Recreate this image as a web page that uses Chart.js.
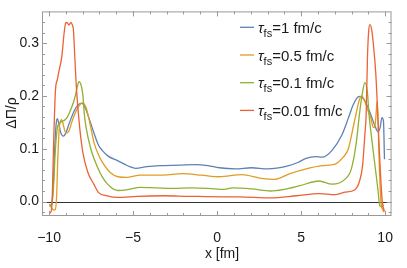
<!DOCTYPE html>
<html>
<head>
<meta charset="utf-8">
<script src="https://cdn.jsdelivr.net/npm/chart.js"></script>
<style>
  body { margin: 0; background: #fff; }
  #wrap { width: 407px; height: 268px; }
</style>
</head>
<body>
<div id="wrap"><canvas id="chart1" width="407" height="268"></canvas></div>
<script>
var xTicks = [-10, -5, 0, 5, 10];
var yTicks = [0, 0.1, 0.2, 0.3];
var seriesNames = ['1', '0.5', '0.1', '0.01'];
var seriesColors = ['#5e81b5', '#e19c24', '#8fb032', '#eb6235'];

var blueX = [-9.97, -9.85, -9.75, -9.65, -9.56, -9.5, -9.42, -9.3, -9.14, -9.0, -8.8, -8.5, -8.3, -8.1, -7.95, -7.7, -7.32, -7.05, -6.84, -6.48, -5.9, -5.52, -5.2, -4.85, -4.18, -3.41, -2.26, -1.3, -0.54, 0.13, 1.09, 2.05, 3.0, 4.16, 4.8, 5.3, 5.88, 6.26, 6.84, 7.41, 7.8, 8.08, 8.3, 8.47, 8.75, 9.14, 9.42, 9.58, 9.7, 9.81, 9.9, 9.96];
var blueY = [-0.009, -0.006, 0.03, 0.11, 0.152, 0.157, 0.148, 0.13, 0.124, 0.13, 0.148, 0.172, 0.182, 0.186, 0.184, 0.165, 0.129, 0.106, 0.097, 0.086, 0.077, 0.071, 0.066, 0.063, 0.066, 0.068, 0.069, 0.070, 0.068, 0.064, 0.062, 0.064, 0.062, 0.067, 0.074, 0.082, 0.085, 0.084, 0.097, 0.125, 0.157, 0.182, 0.195, 0.199, 0.193, 0.165, 0.141, 0.132, 0.14, 0.159, 0.152, 0.08];

var orangeX = [-9.97, -9.85, -9.72, -9.63, -9.55, -9.48, -9.4, -9.3, -9.24, -9.15, -9.0, -8.85, -8.6, -8.3, -8.0, -7.8, -7.6, -7.32, -7.05, -6.84, -6.36, -5.9, -5.33, -4.56, -3.22, -2.07, -0.92, 0.13, 1.47, 2.62, 3.39, 4.34, 5.3, 6.26, 7.03, 7.5, 7.8, 8.18, 8.47, 8.6, 8.75, 9.0, 9.14, 9.29, 9.38, 9.46, 9.52, 9.57, 9.65, 9.75, 9.85, 9.95];
var orangeY = [-0.005, -0.012, -0.016, -0.015, 0.01, 0.08, 0.135, 0.154, 0.155, 0.145, 0.13, 0.132, 0.155, 0.177, 0.187, 0.178, 0.153, 0.111, 0.088, 0.075, 0.055, 0.047, 0.046, 0.050, 0.050, 0.053, 0.050, 0.047, 0.051, 0.044, 0.042, 0.053, 0.062, 0.068, 0.071, 0.084, 0.099, 0.153, 0.193, 0.2, 0.193, 0.17, 0.159, 0.141, 0.14, 0.165, 0.19, 0.16, 0.07, 0.0, -0.015, -0.02];

var greenX = [-9.97, -9.85, -9.75, -9.62, -9.5, -9.33, -9.14, -8.95, -8.66, -8.47, -8.3, -8.22, -8.09, -7.99, -7.9, -7.8, -7.51, -7.13, -6.8, -6.36, -5.9, -5.4, -4.56, -3.6, -2.64, -1.49, -0.54, 0.42, 0.9, 2.05, 3.2, 3.97, 4.92, 6.07, 6.84, 7.6, 7.99, 8.28, 8.47, 8.66, 8.79, 8.94, 9.04, 9.23, 9.42, 9.58, 9.68, 9.78, 9.9];
var greenY = [-0.005, -0.008, 0.02, 0.1, 0.14, 0.15, 0.153, 0.158, 0.178, 0.196, 0.22, 0.227, 0.22, 0.202, 0.165, 0.141, 0.099, 0.066, 0.045, 0.028, 0.021, 0.022, 0.027, 0.026, 0.025, 0.026, 0.025, 0.023, 0.026, 0.024, 0.020, 0.023, 0.030, 0.039, 0.033, 0.042, 0.062, 0.111, 0.165, 0.208, 0.225, 0.208, 0.165, 0.111, 0.062, 0.02, -0.008, -0.01, -0.006];

var redX = [-9.97, -9.9, -9.82, -9.72, -9.62, -9.5, -9.43, -9.24, -9.1, -9.0, -8.9, -8.82, -8.7, -8.6, -8.55, -8.47, -8.37, -8.18, -7.99, -7.7, -7.32, -7.05, -6.55, -5.9, -4.75, -3.2, -1.7, 0.42, 1.28, 3.18, 4.73, 6.07, 7.03, 7.6, 8.18, 8.47, 8.66, 8.8, 8.87, 8.95, 9.02, 9.1, 9.21, 9.33, 9.44, 9.54, 9.62, 9.71, 9.83, 9.95];
var redY = [-0.022, -0.02, 0.0, 0.12, 0.21, 0.232, 0.244, 0.275, 0.32, 0.339, 0.338, 0.334, 0.339, 0.333, 0.325, 0.275, 0.214, 0.141, 0.093, 0.056, 0.032, 0.017, 0.011, 0.008, 0.010, 0.011, 0.010, 0.009, 0.009, 0.007, 0.011, 0.015, 0.013, 0.018, 0.022, 0.038, 0.069, 0.13, 0.165, 0.275, 0.323, 0.335, 0.323, 0.287, 0.244, 0.18, 0.12, 0.06, 0.0, -0.018];

var allX = [blueX, orangeX, greenX, redX];
var allY = [blueY, orangeY, greenY, redY];

var fontName = '"Liberation Sans", Arial, sans-serif';

function toPoints(xs, ys) {
    var pts = [];
    for (var i = 0; i < xs.length; i++) {
        pts.push({x: xs[i], y: ys[i]});
    }
    return pts;
}

var datasets = [];
for (var k = 0; k < seriesNames.length; k++) {
    datasets.push({
        label: seriesNames[k],
        data: toPoints(allX[k], allY[k]),
        borderColor: seriesColors[k],
        backgroundColor: seriesColors[k],
        borderWidth: 1.3,
        pointRadius: 0,
        fill: false,
        cubicInterpolationMode: 'monotone',
        order: seriesNames.length - k
    });
}

var framePlugin = {
    id: 'frame',
    beforeDatasetsDraw: function (chart) {
        var ctx = chart.ctx, a = chart.chartArea;
        var y0 = chart.scales.y.getPixelForValue(0);
        ctx.save();
        ctx.strokeStyle = '#333';
        ctx.lineWidth = 1;
        ctx.beginPath();
        ctx.moveTo(a.left, Math.round(y0) + 0.5);
        ctx.lineTo(a.right, Math.round(y0) + 0.5);
        ctx.stroke();
        ctx.restore();
    },
    afterDraw: function (chart) {
        var ctx = chart.ctx, a = chart.chartArea;
        var sx = chart.scales.x, sy = chart.scales.y;
        ctx.save();
        ctx.strokeStyle = '#999';
        ctx.lineWidth = 1;
        ctx.strokeRect(a.left + 0.5, a.top + 0.5, a.right - a.left - 1, a.bottom - a.top - 1);
        ctx.beginPath();
        var v, p, len;
        for (v = -10; v <= 10; v += 1) {
            p = Math.round(sx.getPixelForValue(v)) + 0.5;
            len = (v % 5 === 0) ? 5 : 3;
            ctx.moveTo(p, a.bottom); ctx.lineTo(p, a.bottom - len);
            ctx.moveTo(p, a.top); ctx.lineTo(p, a.top + len);
        }
        for (var j = -1; j <= 17; j++) {
            v = j * 0.02;
            p = Math.round(sy.getPixelForValue(v)) + 0.5;
            len = (j % 5 === 0) ? 5 : 3;
            ctx.moveTo(a.left, p); ctx.lineTo(a.left + len, p);
            ctx.moveTo(a.right, p); ctx.lineTo(a.right - len, p);
        }
        ctx.stroke();

        // axis titles
        ctx.fillStyle = '#1a1a1a';
        ctx.font = '14px ' + fontName;
        ctx.textAlign = 'center';
        ctx.textBaseline = 'alphabetic';
        ctx.fillText('x [fm]', 222, 258);
        ctx.save();
        ctx.translate(16, 113);
        ctx.rotate(-Math.PI / 2);
        ctx.fillText('ΔΠ/ρ', 0, 0);
        ctx.restore();

        // legend
        var lx = 240, ty = 27.3, step = 27.7;
        ctx.textAlign = 'left';
        for (var k = 0; k < seriesNames.length; k++) {
            var ly = ty + k * step;
            ctx.strokeStyle = seriesColors[k];
            ctx.lineWidth = 1.3;
            ctx.beginPath();
            ctx.moveTo(lx, ly);
            ctx.lineTo(lx + 14, ly);
            ctx.stroke();
            var tx = lx + 18, base = ly + 5.5;
            ctx.font = 'italic 15px ' + fontName;
            ctx.fillText('τ', tx, base);
            tx += ctx.measureText('τ').width;
            ctx.font = '11px ' + fontName;
            ctx.fillText('fs', tx, base + 4);
            tx += ctx.measureText('fs').width;
            ctx.font = '15px ' + fontName;
            ctx.fillText('=' + seriesNames[k] + ' fm/c', tx, base);
        }
        ctx.restore();
    }
};

var chart1 = new Chart(document.getElementById('chart1').getContext('2d'), {
    type: 'line',
    data: {datasets: datasets},
    options: {
        responsive: false,
        animation: false,
        events: [],
        layout: {padding: {top: 3, right: 3.5, left: 0, bottom: 0}},
        plugins: {legend: {display: false}, tooltip: {enabled: false}},
        scales: {
            x: {
                type: 'linear',
                min: -10.42,
                max: 10.38,
                grid: {display: false, drawTicks: false},
                border: {display: false},
                afterBuildTicks: function (scale) {
                    scale.ticks = xTicks.map(function (v) { return {value: v}; });
                },
                afterFit: function (scale) { scale.height = 52; },
                ticks: {
                    color: '#1a1a1a',
                    font: {family: fontName, size: 14},
                    padding: 14,
                    maxRotation: 0,
                    callback: function (v) { return String(v).replace('-', '\u2212'); }
                }
            },
            y: {
                type: 'linear',
                min: -0.0273,
                max: 0.36,
                grid: {display: false, drawTicks: false},
                border: {display: false},
                afterBuildTicks: function (scale) {
                    scale.ticks = yTicks.map(function (v) { return {value: v}; });
                },
                afterFit: function (scale) { scale.width = 42; },
                ticks: {
                    color: '#1a1a1a',
                    font: {family: fontName, size: 14},
                    padding: 3,
                    callback: function (v) { return v.toFixed(1); }
                }
            }
        }
    },
    plugins: [framePlugin]
});
</script>
</body>
</html>
